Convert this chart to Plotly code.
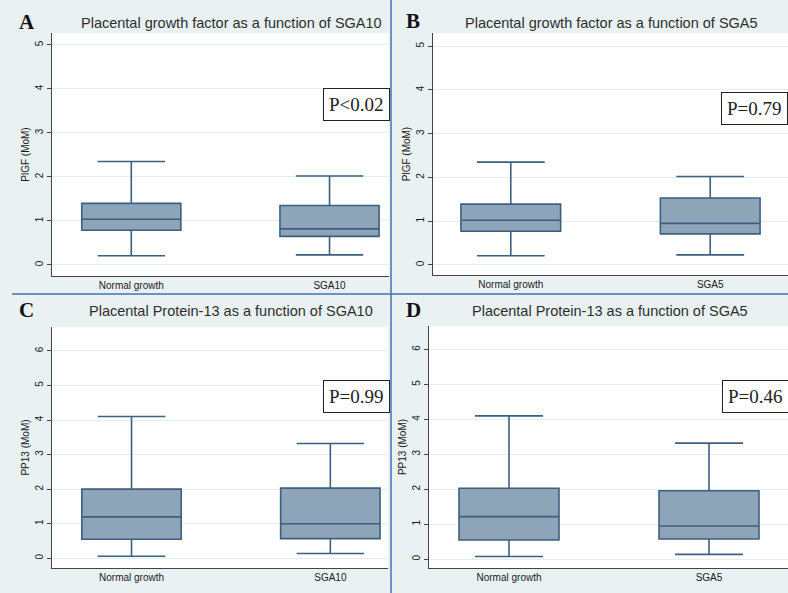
import plotly.graph_objects as go

W, H = 788, 593

# ---------------- data ----------------
cats_A = ["Normal growth", "SGA10"]
cats_B = ["Normal growth", "SGA5"]
cats_C = ["Normal growth", "SGA10"]
cats_D = ["Normal growth", "SGA5"]

# [lower whisker, Q1, median, Q3, upper whisker] per category
A_lower = [0.21, 0.23]
A_q1 = [0.79, 0.65]
A_med = [1.04, 0.82]
A_q3 = [1.40, 1.35]
A_upper = [2.35, 2.02]

B_lower = [0.21, 0.23]
B_q1 = [0.77, 0.71]
B_med = [1.02, 0.95]
B_q3 = [1.39, 1.53]
B_upper = [2.35, 2.02]

C_lower = [0.06, 0.14]
C_q1 = [0.55, 0.57]
C_med = [1.20, 1.00]
C_q3 = [2.00, 2.03]
C_upper = [4.10, 3.32]

D_lower = [0.08, 0.14]
D_q1 = [0.55, 0.58]
D_med = [1.22, 0.95]
D_q3 = [2.03, 1.96]
D_upper = [4.10, 3.32]

titles = ["Placental growth factor as a function of SGA10",
          "Placental growth factor as a function of SGA5",
          "Placental Protein-13 as a function of SGA10",
          "Placental Protein-13 as a function of SGA5"]
letters = ["A", "B", "C", "D"]
ytitles = ["PlGF (MoM)", "PlGF (MoM)", "PP13 (MoM)", "PP13 (MoM)"]
pvals = ["P<0.02", "P=0.79", "P=0.99", "P=0.46"]

# ---------------- style ----------------
BG = "#eaf1f3"
FILL = "#8da4b9"
EDGE = "#3d5f80"
GRID = "#e6edef"
AXC = "#444444"
DIV = "#3f73b5"

def px_x(p):
    return p / W

def px_y(p):
    return 1 - p / H

panels = [
    dict(cats=cats_A, lo=A_lower, q1=A_q1, me=A_med, q3=A_q3, up=A_upper,
         xd=(52, 389), yd=(33, 276), xr=(-0.40, 1.30), yr=(-0.25, 5.27), yt=[0, 1, 2, 3, 4, 5],
         title_xy=(231.5, 23), letter_xy=(27, 22), p_xy=(356, 104)),
    dict(cats=cats_B, lo=B_lower, q1=B_q1, me=B_med, q3=B_q3, up=B_upper,
         xd=(433, 788), yd=(33, 275), xr=(-0.39, 1.39), yr=(-0.23, 5.30), yt=[0, 1, 2, 3, 4, 5],
         title_xy=(611.5, 23), letter_xy=(413, 21), p_xy=(754, 108)),
    dict(cats=cats_C, lo=C_lower, q1=C_q1, me=C_med, q3=C_q3, up=C_upper,
         xd=(52, 388), yd=(327, 568), xr=(-0.40, 1.29), yr=(-0.28, 6.69), yt=[0, 1, 2, 3, 4, 5, 6],
         title_xy=(231, 311), letter_xy=(26, 310), p_xy=(356, 396)),
    dict(cats=cats_D, lo=D_lower, q1=D_q1, me=D_med, q3=D_q3, up=D_upper,
         xd=(429, 788), yd=(326, 568), xr=(-0.40, 1.395), yr=(-0.25, 6.67), yt=[0, 1, 2, 3, 4, 5, 6],
         title_xy=(609.5, 311), letter_xy=(413, 310), p_xy=(755, 396)),
]

fig = go.Figure()
annotations = []
layout_axes = {}

for i, p in enumerate(panels):
    n = "" if i == 0 else str(i + 1)
    xa, ya = "x" + n, "y" + n
    fig.add_trace(go.Box(
        x=[0, 1], q1=p["q1"], median=p["me"], q3=p["q3"],
        lowerfence=p["lo"], upperfence=p["up"],
        xaxis=xa, yaxis=ya, width=0.5, whiskerwidth=0.68,
        fillcolor=FILL, line=dict(color=EDGE, width=1.6),
        boxpoints=False, showlegend=False, hoverinfo="skip",
    ))
    layout_axes["xaxis" + n] = dict(
        domain=[px_x(p["xd"][0]), px_x(p["xd"][1])], anchor=ya,
        range=list(p["xr"]), tickvals=[0, 1], ticktext=p["cats"],
        showgrid=False, zeroline=False, showline=True, linecolor=AXC, linewidth=1,
        ticks="", tickfont=dict(family="Liberation Sans, Arial", size=10, color="#1a1a1a"),
    )
    layout_axes["yaxis" + n] = dict(
        domain=[px_y(p["yd"][1]), px_y(p["yd"][0])], anchor=xa,
        range=list(p["yr"]), tickvals=p["yt"], tickangle=-90,
        showgrid=True, gridcolor=GRID, gridwidth=1, zeroline=False,
        showline=True, linecolor=AXC, linewidth=1,
        ticks="outside", ticklen=4, tickcolor=AXC,
        tickfont=dict(family="Liberation Sans, Arial", size=10, color="#1a1a1a"),
        title=dict(text=ytitles[i], standoff=2,
                   font=dict(family="Liberation Sans, Arial", size=10, color="#1a1a1a")),
    )
    annotations.append(dict(
        text=titles[i], xref="paper", yref="paper",
        x=px_x(p["title_xy"][0]), y=px_y(p["title_xy"][1]),
        xanchor="center", yanchor="middle", showarrow=False,
        font=dict(family="Liberation Sans, Arial", size=14.5, color="#2e2e2e"),
    ))
    annotations.append(dict(
        text="<b>%s</b>" % letters[i], xref="paper", yref="paper",
        x=px_x(p["letter_xy"][0]), y=px_y(p["letter_xy"][1]),
        xanchor="center", yanchor="middle", showarrow=False,
        font=dict(family="Liberation Serif, Times New Roman", size=21, color="#111111"),
    ))
    annotations.append(dict(
        text=pvals[i], xref="paper", yref="paper",
        x=px_x(p["p_xy"][0]), y=px_y(p["p_xy"][1]),
        xanchor="center", yanchor="middle", showarrow=False,
        bgcolor="white", bordercolor="#222222", borderwidth=1, borderpad=5,
        font=dict(family="Liberation Serif, Times New Roman", size=19, color="#222222"),
    ))

shapes = [
    dict(type="line", xref="paper", yref="paper", x0=px_x(391), x1=px_x(391), y0=0, y1=1,
         line=dict(color=DIV, width=1.5)),
    dict(type="line", xref="paper", yref="paper", x0=px_x(12), x1=1, y0=px_y(294), y1=px_y(294),
         line=dict(color=DIV, width=1.5)),
]

fig.update_layout(
    width=W, height=H,
    margin=dict(l=0, r=0, t=0, b=0),
    paper_bgcolor=BG, plot_bgcolor="white",
    annotations=annotations, shapes=shapes,
    **layout_axes,
)

fig.write_html("out.html", config={"displayModeBar": False},
               post_script="document.body.style.margin='0';document.body.style.overflow='hidden';")
